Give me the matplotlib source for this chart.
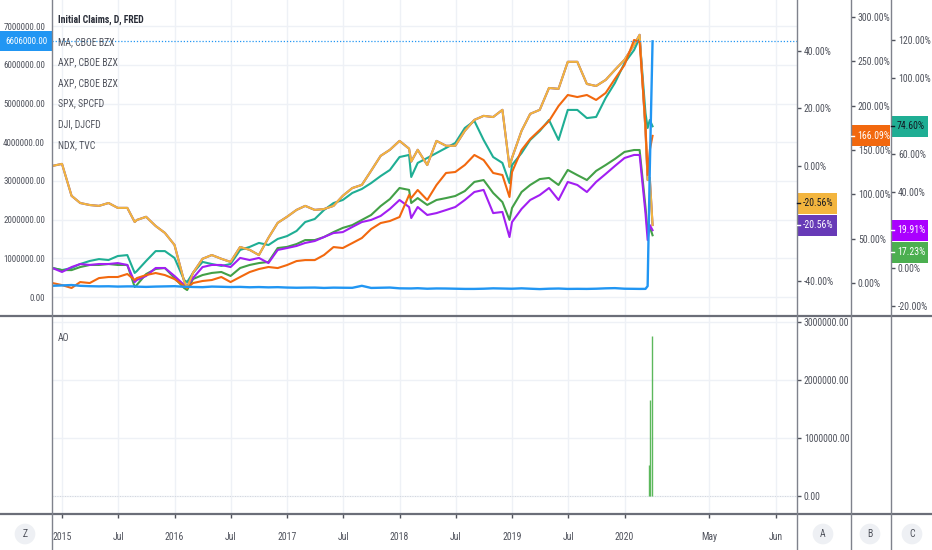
import matplotlib
matplotlib.use('Agg')
import matplotlib.pyplot as plt
from matplotlib import font_manager
from matplotlib.patches import Rectangle
from matplotlib.lines import Line2D
import numpy as np
import pandas as pd

names = {f.name for f in font_manager.fontManager.ttflist}
FONT = next((n for n in ['Liberation Sans Narrow', 'Roboto Condensed', 'Liberation Sans'] if n in names), 'DejaVu Sans')
plt.rcParams['font.family'] = [FONT, 'DejaVu Sans']

# ---------------- data ----------------
monthly = pd.date_range('2014-12-01', '2020-02-01', freq='MS')
extra_dates = ['2015-08-25', '2016-02-11', '2018-02-08', '2018-12-24',
               '2020-02-19', '2020-03-09', '2020-03-16', '2020-03-23', '2020-04-01']
dates = monthly.append(pd.to_datetime(extra_dates)).sort_values()

# Initial Claims (left axis)
claims_k = [290,
            300, 310, 290, 280, 275, 278, 270, 275, 275, 268, 262, 270, 275,
            280, 265, 265, 260, 255, 270, 265, 258, 262, 252, 258, 250, 255,
            245, 240, 243, 245, 235, 243, 240, 238, 290, 235, 240, 245,
            225, 222, 222, 228, 215, 222, 220, 215, 210, 210, 215, 225, 220, 216,
            215, 225, 215, 205, 215, 220, 210, 212, 210, 215, 225, 230,
            215, 212, 210, 211, 282, 3307, 6606]
# AXP % (scale A)
axp = [0.0,
       0.7, -10.4, -12.9, -13.6, -13.9, -12.9, -14.6, -14.6, -19.5, -18.8, -17.7, -20.9, -23.3,
       -27.5, -40.0, -42.4, -37.2, -32.3, -31.0, -32.3, -33.4, -28.2, -29.2, -31.0, -25.0, -19.8,
       -17.7, -15.3, -13.9, -15.3, -15.0, -13.9, -10.4, -7.7, -6.6, -1.7, 3.5, 5.6,
       8.7, 6.0, 1.5, 5.6, 0.3, 8.7, 7.0, 7.0, 12.2, 16.0, 17.4, 17.0, 19.5, -0.3,
       2.8, 12.2, 18.1, 19.5, 27.1, 26.8, 36.2, 36.2, 28.5, 27.8, 29.9, 33.4,
       36.9, 42.1, 45.6, 12.5, -4.9, -4.2, -20.56]
# MA % (scale B)
ma = [0.0,
      -2.3, -5.6, 1.1, 0.0, 5.6, 6.8, 6.8, 10.2, 3.4, 5.6, 9.0, 11.3, 9.0,
      4.5, -3.4, -5.6, 0.0, 2.3, 3.4, 6.8, 1.1, 6.8, 12.4, 15.8, 18.1, 16.9,
      20.3, 24.8, 25.9, 25.9, 31.6, 40.6, 39.5, 45.1, 50.8, 60.9, 67.7, 70.0,
      74.5, 99.3, 96.0, 105.0, 93.7, 110.6, 124.2, 125.3, 133.2, 144.5, 138.8, 124.2, 121.9, 97.1,
      125.3, 150.1, 162.5, 172.7, 182.8, 199.8, 212.2, 209.9, 212.2, 206.6, 214.5, 230.3,
      246.1, 274.3, 272.0, 178.3, 121.9, 150.1, 166.09]
# NDX % (scale C)
ndx = [0.0,
       -1.1, 0.0, 2.1, 3.7, 4.7, 4.2, 6.3, 6.8, -2.6, -1.6, 3.7, 8.9, 8.9,
       5.3, -6.3, -7.4, -2.6, 3.2, 2.1, 1.1, 2.1, 9.5, 11.1, 13.2, 12.1, 15.3,
       16.8, 19.5, 24.2, 25.8, 30.5, 34.2, 35.8, 39.5, 41.6, 44.7, 48.4, 51.6,
       58.4, 59.5, 47.9, 55.3, 57.9, 60.5, 63.2, 65.8, 73.7, 77.4, 67.4, 58.4, 55.3, 44.7,
       54.2, 60.5, 67.4, 72.1, 77.9, 67.4, 83.2, 83.2, 78.9, 79.5, 89.5, 97.4,
       107.9, 114.7, 121.1, 81.6, 73.7, 77.9, 74.6]
# SPX % (scale C)
spx = [0.0,
       -1.1, -1.1, 0.5, 1.6, 1.6, 2.1, 1.6, 1.6, -10.0, -8.9, -3.2, -0.5, 0.0,
       -5.3, -10.5, -11.6, -5.8, -3.7, -2.6, -2.1, -4.2, 0.0, 1.6, 2.6, 3.2, 10.5,
       11.1, 12.6, 14.7, 14.7, 16.3, 18.9, 21.1, 22.6, 25.3, 27.9, 32.6, 36.3,
       42.1, 41.1, 34.2, 36.8, 33.2, 35.8, 36.8, 37.9, 40.5, 45.3, 46.3, 39.5, 34.7, 25.3,
       31.6, 40.0, 43.7, 46.8, 47.4, 43.7, 51.6, 48.9, 46.3, 51.1, 54.2, 57.4,
       61.1, 62.1, 62.1, 32.1, 18.9, 21.6, 17.23]
# DJI % (scale C)
dji = [0.0,
       -2.1, 0.5, 2.1, 1.6, 2.1, 2.1, 2.6, 1.6, -7.4, -6.3, -4.2, 0.0, 0.0,
       -4.2, -8.9, -9.5, -5.3, 0.5, 1.6, 1.6, 0.5, 5.3, 4.2, 5.3, 2.6, 9.5,
       10.5, 11.6, 13.2, 14.2, 16.3, 18.4, 18.9, 21.6, 24.2, 25.3, 27.4, 31.1,
       35.8, 32.1, 26.3, 32.1, 27.9, 28.9, 30.5, 32.1, 35.8, 40.0, 41.1, 28.9, 29.5, 16.3,
       24.2, 31.1, 35.8, 38.4, 42.1, 35.8, 45.3, 43.7, 40.0, 45.3, 49.5, 53.7,
       57.9, 59.5, 59.5, 28.9, 14.7, 22.6, 19.91]

ao_dates = ['2020-03-19', '2020-03-25', '2020-03-31']
ao_values = [530000, 1660000, 2760000]

legend_names = ['Initial Claims, D, FRED', 'MA, CBOE BZX', 'AXP, CBOE BZX', 'AXP, CBOE BZX',
                'SPX, SPCFD', 'DJI, DJCFD', 'NDX, TVC']

xtick_labels = ['2015', 'Jul', '2016', 'Jul', '2017', 'Jul', '2018', 'Jul', '2019', 'Jul', '2020', 'May', 'Jun']

# ---------------- styling ----------------
C_BLUE = '#2196f3'
C_YEL = '#f3b53e'
C_ORG = '#f2680e'
C_TEAL = '#1fae94'
C_GRN = '#43a047'
C_VIO = '#a21ff2'
C_DPUR = '#673ab7'
TXT = '#4f525c'
GRID = '#eef1f6'
SEP = '#7f828c'
FS = 7.0

W, H = 932, 550
fig = plt.figure(figsize=(W / 100, H / 100), dpi=100)
fig.patch.set_facecolor('white')


def rect(x0, y0, x1, y1):
    return [x0 / W, 1 - y1 / H, (x1 - x0) / W, (y1 - y0) / H]


def fyear(d):
    d = pd.DatetimeIndex(d)
    return np.asarray(d.year + (d.dayofyear - 1) / 365.25, dtype=float)


x = fyear(dates)
xa = fyear(pd.to_datetime(ao_dates))
for s in (claims_k, axp, ma, ndx, spx, dji):
    assert len(s) == len(x)
claims = np.array(claims_k) * 1000.0

XL, XR = 2014.911, 2021.533
xticks = [2015.0, 2015.5, 2016.0, 2016.5, 2017.0, 2017.5, 2018.0, 2018.5,
          2019.0, 2019.5, 2020.0, 2020.751, 2021.347]

ax = fig.add_axes(rect(52, 0, 797, 316))
ax.set_xlim(XL, XR)
ax.set_ylim(-0.49e6, 7.674e6)
ax.set_yticks(np.arange(0, 7.5e6, 1e6))
ax.yaxis.set_major_formatter(matplotlib.ticker.FuncFormatter(lambda v, p: f'{v:.2f}'))
ax.tick_params(axis='y', length=0, pad=5, labelsize=6.5, colors=TXT)
ax.set_xticks(xticks)
ax.tick_params(axis='x', length=0, labelbottom=False)
ax.grid(True, color=GRID, lw=1)
for sp in ax.spines.values():
    sp.set_visible(False)


def make_twin(lo, hi, ticks, pos):
    t = ax.twinx()
    t.set_ylim(lo, hi)
    t.set_yticks(ticks)
    t.yaxis.set_major_formatter(matplotlib.ticker.FuncFormatter(lambda v, p: f'{v:.2f}%'))
    t.tick_params(axis='y', length=3, width=1, pad=2, labelsize=FS, colors=TXT)
    t.spines['right'].set_position(('axes', pos))
    for sp in t.spines.values():
        sp.set_visible(False)
    return t


# ticks hidden behind the value badges in the reference are left out
axC = make_twin(-25.26, 141.05, [-20, 0, 40, 60, 100, 120], (891 - 52) / 745)
axA = make_twin(-52.2, 57.7, [-40, 0, 20, 40], 1.0)
axB = make_twin(-37.2, 319.4, [0, 50, 100, 150, 200, 250, 300], (851 - 52) / 745)
axL = ax.twinx()
axL.set_ylim(ax.get_ylim())
axL.set_yticks([])
for sp in axL.spines.values():
    sp.set_visible(False)

LW = 1.5
axC.plot(x, ndx, color=C_TEAL, lw=LW)
axC.plot(x, spx, color=C_GRN, lw=LW)
axC.plot(x, dji, color=C_VIO, lw=LW)
axA.plot(x, axp, color=C_DPUR, lw=LW)
axA.plot(x, axp, color=C_YEL, lw=LW)
axB.plot(x, ma, color=C_ORG, lw=LW)
axL.plot(x, claims, color=C_BLUE, lw=LW + 0.2)
axL.axhline(claims[-1], color=C_BLUE, lw=0.9, ls=(0, (1, 1.5)))

# lower panel
ax2 = fig.add_axes(rect(52, 316, 797, 514))
ax2.set_xlim(XL, XR)
ax2.set_ylim(-0.31e6, 3.103e6)
ax2.yaxis.tick_right()
ax2.set_yticks([0, 1e6, 2e6, 3e6])
ax2.yaxis.set_major_formatter(matplotlib.ticker.FuncFormatter(lambda v, p: f'{v:.2f}'))
ax2.tick_params(axis='y', length=3, width=1, pad=2, labelsize=FS, colors=TXT)
ax2.set_xticks(xticks)
ax2.set_xticklabels(xtick_labels)
ax2.tick_params(axis='x', length=3, width=1, pad=10, labelsize=FS, colors=TXT)
ax2.grid(True, color=GRID, lw=1)
for sp in ax2.spines.values():
    sp.set_visible(False)
ax2.axhline(0, color='#c9ccd3', lw=0.6, ls=(0, (1, 2)))
ax2.vlines(xa, 0, ao_values, color='#5cb85c', lw=1.0)
ax2.text(6 / 745, 1 - 22 / 198, 'AO', transform=ax2.transAxes, fontsize=FS, color=TXT,
         va='center', ha='left')


# separators
def fline(x0, y0, x1, y1, c=SEP, lw=1.0):
    fig.add_artist(Line2D([x0 / W, x1 / W], [1 - y0 / H, 1 - y1 / H], color=c, lw=lw,
                          transform=fig.transFigure))


fline(0, 316, W, 316, c='#6b6e78', lw=1.6)
fline(0, 514, W, 514, c='#6b6e78', lw=1.6)
for xv in (52, 797, 851, 891):
    fline(xv, 0, xv, H, lw=1.0)

# legend text
fig.text(58 / W, 1 - 20 / H, legend_names[0], fontsize=FS, color='#2a2e39',
         fontweight='bold', va='center', ha='left')
for i, name in enumerate(legend_names[1:]):
    yy = [42, 62, 83, 103, 124, 145][i]
    fig.text(58 / W, 1 - yy / H, name, fontsize=FS, color=TXT, va='center', ha='left')


# badges
def badge(axis, val, x0, x1, color, text, dy=0, tc='white', h=21):
    py = H - axis.transData.transform((0, val))[1] + dy
    fig.add_artist(Rectangle((x0 / W, 1 - (py + h / 2) / H), (x1 - x0) / W, h / H,
                             transform=fig.transFigure, facecolor=color, edgecolor='none'))
    fig.add_artist(Line2D([x0 / W, (x0 + 3) / W], [1 - py / H, 1 - py / H], color=tc, lw=1,
                          transform=fig.transFigure))
    fig.text((x0 + 6) / W, 1 - py / H, text, fontsize=FS, color=tc, va='center', ha='left')


badge(axA, axp[-1], 797, 837, C_YEL, f'{axp[-1]:.2f}%', dy=-22, tc='#131722')
badge(axA, axp[-1], 797, 837, C_DPUR, f'{axp[-1]:.2f}%')
badge(axB, ma[-1], 851, 890, C_ORG, f'{ma[-1]:.2f}%')
badge(axC, ndx[-1], 891, 928, C_TEAL, f'{ndx[-1]:.2f}%', tc='#131722')
badge(axC, dji[-1], 891, 928, '#aa00ff', f'{dji[-1]:.2f}%')
badge(axC, spx[-1], 891, 928, '#4caf50', f'{spx[-1]:.2f}%', dy=17)

py = H - axL.transData.transform((0, claims[-1]))[1]
fig.add_artist(Rectangle((0, 1 - (py + 10) / H), 52 / W, 20 / H, transform=fig.transFigure,
                         facecolor=C_BLUE, edgecolor='none'))
fig.text(26 / W, 1 - py / H, f'{claims[-1]:.2f}', fontsize=6.5, color='white', va='center', ha='center')

# bottom letters
for lx, lt in ((25, 'Z'), (823, 'A'), (870, 'B'), (912, 'C')):
    fig.text(lx / W, 1 - 534 / H, lt, fontsize=FS, color=TXT, va='center', ha='center',
             bbox=dict(boxstyle='circle,pad=0.55', facecolor='#eef0f4', edgecolor='none'))

fig.savefig('out.png', dpi=100)
